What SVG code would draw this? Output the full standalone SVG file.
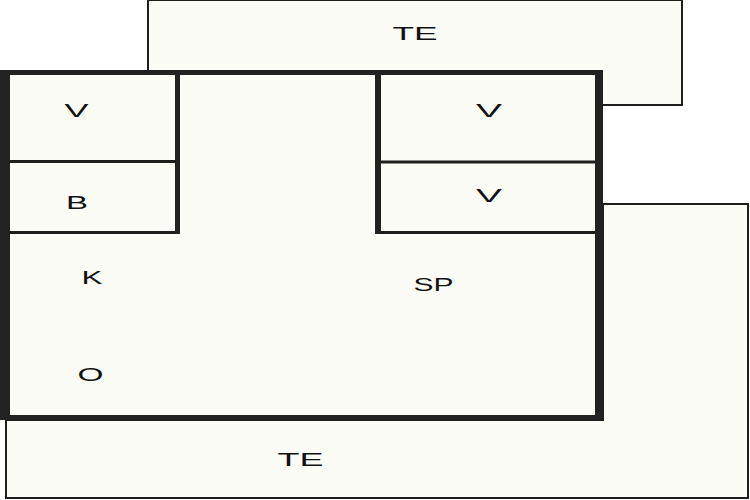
<svg xmlns="http://www.w3.org/2000/svg" width="750" height="500" viewBox="0 0 750 500">
  <style>
    .area { fill: #fcfcf6; stroke: #1e1e1e; stroke-width: 2; }
    .wall { fill: #222222; }
    .line { stroke: #1e1e1e; stroke-width: 3; fill: none; }
    .lbl { font-family: "Liberation Sans", Arial, sans-serif; font-size: 18px; fill: #111111; text-anchor: middle; }
  </style>
  <rect x="0" y="0" width="750" height="500" fill="#ffffff"/>

  <g id="terrace-top">
    <rect class="area" x="148" y="0" width="534" height="105"/>
    <text class="lbl" x="415" y="40" textLength="45" lengthAdjust="spacingAndGlyphs">TE</text>
  </g>

  <g id="terrace-bottom">
    <path class="area" d="M6,420 L6,498 L748,498 L748,204 L603,204 L603,420 Z"/>
    <text class="lbl" x="300.5" y="466" textLength="46" lengthAdjust="spacingAndGlyphs">TE</text>
  </g>

  <g id="main">
    <rect x="5" y="72" width="594" height="346" fill="#fcfcf6"/>
    <text class="lbl" x="433.5" y="291" textLength="40" lengthAdjust="spacingAndGlyphs">SP</text>
    <text class="lbl" x="92" y="284" textLength="21" lengthAdjust="spacingAndGlyphs">K</text>
    <text class="lbl" x="90.5" y="381" textLength="26" lengthAdjust="spacingAndGlyphs">O</text>
  </g>

  <g id="room-v-left">
    <line class="line" x1="10" y1="161.5" x2="177" y2="161.5"/>
    <text class="lbl" x="76.5" y="117" textLength="24" lengthAdjust="spacingAndGlyphs">V</text>
  </g>
  <g id="room-b">
    <line class="line" x1="10" y1="232.5" x2="180" y2="232.5"/>
    <text class="lbl" x="77" y="209" textLength="22" lengthAdjust="spacingAndGlyphs">B</text>
  </g>
  <g id="room-v-right-top">
    <line class="line" x1="378" y1="162" x2="596" y2="162"/>
    <text class="lbl" x="489" y="117" textLength="26" lengthAdjust="spacingAndGlyphs">V</text>
  </g>
  <g id="room-v-right-bottom">
    <line class="line" x1="375" y1="232.5" x2="596" y2="232.5"/>
    <text class="lbl" x="489" y="202" textLength="26" lengthAdjust="spacingAndGlyphs">V</text>
  </g>

  <g id="walls">
    <rect class="wall" x="0" y="70" width="10" height="350"/>
    <rect class="wall" x="0" y="70" width="603" height="5"/>
    <rect class="wall" x="595" y="70" width="8" height="350"/>
    <rect class="wall" x="0" y="415" width="603" height="5"/>
    <rect class="wall" x="175" y="70" width="5" height="164"/>
    <rect class="wall" x="375" y="70" width="6" height="164"/>
  </g>
</svg>
